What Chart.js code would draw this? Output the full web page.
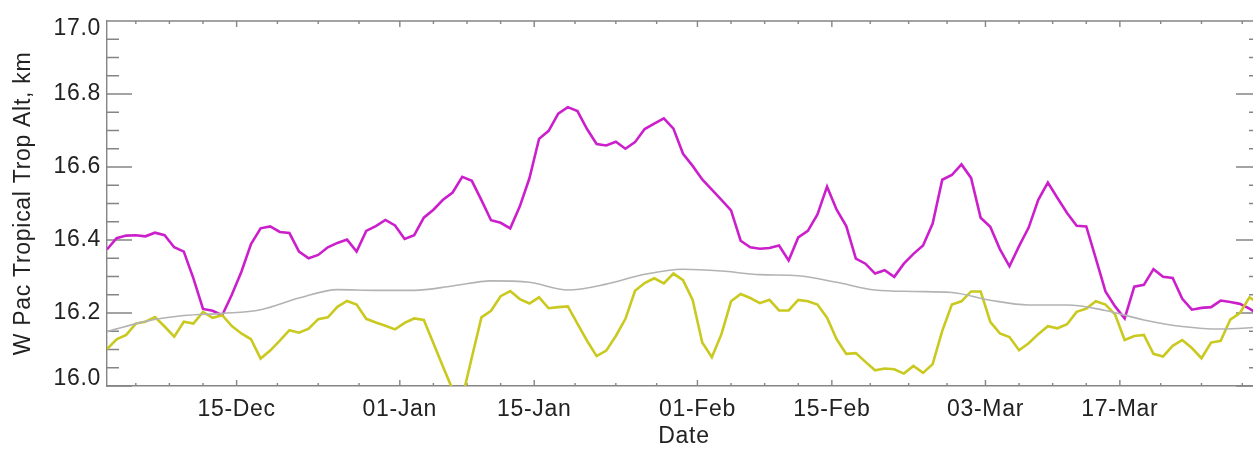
<!DOCTYPE html>
<html>
<head>
<meta charset="utf-8">
<title>W Pac Tropical Tropopause Altitude</title>
<script src="https://cdn.jsdelivr.net/npm/chart.js@4.4.1/dist/chart.umd.min.js"></script>
<style>
  html, body { margin: 0; padding: 0; background: #ffffff; overflow: hidden; }
  #wrap { width: 1280px; height: 449px; }
</style>
</head>
<body>
<div id="wrap"><canvas id="chart" width="1280" height="449"></canvas></div>
<script>
// Days are counted from 1 December (day 0); daily values sit at mid-day.
const seriesStartDay = 0.5;

// Daily tropopause altitude, km (magenta series)
const tropAltMagenta = [
  16.374, 16.405, 16.412, 16.413, 16.410, 16.420, 16.413, 16.380, 16.368, 16.295,
  16.211, 16.206, 16.194, 16.250, 16.313, 16.389, 16.432, 16.437, 16.422, 16.419,
  16.368, 16.350, 16.359, 16.380, 16.392, 16.401, 16.368, 16.425, 16.438, 16.455,
  16.440, 16.403, 16.413, 16.461, 16.483, 16.510, 16.530, 16.573, 16.562, 16.509,
  16.454, 16.447, 16.432, 16.492, 16.569, 16.677, 16.699, 16.746, 16.764, 16.753,
  16.704, 16.663, 16.659, 16.669, 16.650, 16.668, 16.704, 16.719, 16.733, 16.705,
  16.636, 16.603, 16.566, 16.538, 16.510, 16.481, 16.398, 16.380, 16.376, 16.378,
  16.385, 16.344, 16.407, 16.425, 16.470, 16.546, 16.483, 16.438, 16.349, 16.335,
  16.308, 16.317, 16.299, 16.335, 16.362, 16.385, 16.445, 16.565, 16.578, 16.607,
  16.570, 16.461, 16.436, 16.375, 16.328, 16.383, 16.434, 16.510, 16.557, 16.515,
  16.474, 16.439, 16.437, 16.349, 16.259, 16.218, 16.185, 16.272, 16.277, 16.320,
  16.299, 16.296, 16.239, 16.209, 16.214, 16.216, 16.234, 16.230, 16.225, 16.212,
  16.195
];

// Daily tropopause altitude, km (yellow series)
const tropAltYellow = [
  16.101, 16.128, 16.140, 16.171, 16.176, 16.189, 16.163, 16.135, 16.176, 16.171,
  16.203, 16.187, 16.194, 16.164, 16.144, 16.128, 16.075, 16.097, 16.124, 16.153,
  16.146, 16.157, 16.183, 16.188, 16.217, 16.233, 16.223, 16.184, 16.174, 16.165,
  16.155, 16.173, 16.185, 16.181, 16.117, 16.053, 15.990, 15.967, 16.078, 16.188,
  16.206, 16.246, 16.260, 16.238, 16.226, 16.243, 16.213, 16.216, 16.218, 16.171,
  16.124, 16.082, 16.097, 16.137, 16.184, 16.261, 16.282, 16.295, 16.281, 16.308,
  16.290, 16.236, 16.119, 16.079, 16.142, 16.232, 16.252, 16.241, 16.227, 16.236,
  16.207, 16.207, 16.236, 16.232, 16.223, 16.187, 16.128, 16.088, 16.090, 16.066,
  16.043, 16.048, 16.046, 16.034, 16.055, 16.036, 16.060, 16.151, 16.223, 16.232,
  16.259, 16.259, 16.176, 16.144, 16.134, 16.098, 16.117, 16.142, 16.164, 16.158,
  16.169, 16.203, 16.212, 16.232, 16.223, 16.196, 16.126, 16.137, 16.140, 16.088,
  16.081, 16.110, 16.126, 16.104, 16.076, 16.119, 16.124, 16.182, 16.200, 16.243,
  16.225
];

// Smooth reference curve (grey), sampled every fourth day
const climDays = [0, 4, 8, 12, 16, 20, 24, 28, 32, 36, 40, 44, 48, 52, 56, 60,
                  64, 68, 72, 76, 80, 84, 88, 92, 96, 100, 104, 108, 112, 116, 120];
const climValues = [
  16.149, 16.177, 16.193, 16.199, 16.209, 16.241, 16.264, 16.262, 16.262, 16.274,
  16.288, 16.284, 16.263, 16.279, 16.306, 16.320, 16.315, 16.305, 16.302, 16.284,
  16.263, 16.259, 16.256, 16.235, 16.222, 16.222, 16.207, 16.181, 16.163, 16.156,
  16.161
];

// Date axis: labelled days (day 0 = 01-Dec) and the span shown
const tickDays   = [14, 31, 45, 62, 76, 92, 106];
const tickLabels = ['15-Dec', '01-Jan', '15-Jan', '01-Feb', '15-Feb', '03-Mar', '17-Mar'];
const tickBounds = [0, 123];          // labelled dates just outside the span, used for minor ticks
const xMin = 0.5, xMax = 120.7;

// Altitude axis
const yTicks = [16.0, 16.2, 16.4, 16.6, 16.8, 17.0];
const yMin = 16.0, yMax = 17.0, yMinorStep = 0.05;

const fontFamily = "'Liberation Sans', Arial, Helvetica, sans-serif";
const textColor = '#222222';
const axisColor = '#858585';

function toPoints(values, offset) {
  return values.map((v, i) => ({ x: i + offset, y: v }));
}

// Four minor intervals between neighbouring labelled dates
function minorDays() {
  const edges = [tickBounds[0], ...tickDays, tickBounds[1]];
  const out = [];
  for (let i = 0; i < edges.length - 1; i++) {
    const step = (edges[i + 1] - edges[i]) / 4;
    for (let j = 1; j < 4; j++) {
      const d = edges[i] + j * step;
      if (d > xMin && d < xMax) out.push(d);
    }
  }
  return out;
}

// Box frame with inward-pointing major and minor ticks on all four sides
const axisFrame = {
  id: 'axisFrame',
  beforeDraw(chart) {
    chart.ctx.letterSpacing = '0.7px';
  },
  beforeDatasetsDraw(chart) {
    const { ctx, chartArea: a, scales: { x, y } } = chart;
    ctx.save();
    ctx.strokeStyle = axisColor;
    ctx.lineWidth = 1.4;
    ctx.beginPath();
    ctx.moveTo(a.left, a.top);
    ctx.lineTo(a.right, a.top);
    ctx.lineTo(a.right, a.bottom);

    const xTick = (d, len) => {
      const px = x.getPixelForValue(d);
      ctx.moveTo(px, a.bottom); ctx.lineTo(px, a.bottom - len);
      ctx.moveTo(px, a.top);    ctx.lineTo(px, a.top + len);
    };
    tickDays.forEach(d => xTick(d, 6));
    minorDays().forEach(d => xTick(d, 3));

    const n = Math.round((yMax - yMin) / yMinorStep);
    for (let i = 0; i <= n; i++) {
      const py = y.getPixelForValue(yMin + i * yMinorStep);
      const len = (i % 4 === 0) ? 25 : 12;
      ctx.moveTo(a.left, py);  ctx.lineTo(a.left + len, py);
      ctx.moveTo(a.right, py); ctx.lineTo(a.right - len, py);
    }
    ctx.stroke();
    ctx.restore();
  }
};

new Chart(document.getElementById('chart'), {
  type: 'line',
  data: {
    datasets: [
      {
        label: 'reference',
        data: climDays.map((d, i) => ({ x: d + seriesStartDay, y: climValues[i] })),
        borderColor: '#b3b3b3',
        borderWidth: 1.6,
        pointRadius: 0,
        cubicInterpolationMode: 'monotone',
        clip: 0
      },
      {
        label: 'yellow',
        data: toPoints(tropAltYellow, seriesStartDay),
        borderColor: '#c9c920',
        borderWidth: 2.6,
        pointRadius: 0,
        tension: 0,
        clip: 0
      },
      {
        label: 'magenta',
        data: toPoints(tropAltMagenta, seriesStartDay),
        borderColor: '#cc1fcc',
        borderWidth: 2.6,
        pointRadius: 0,
        tension: 0,
        clip: 0
      }
    ]
  },
  options: {
    responsive: false,
    animation: false,
    devicePixelRatio: 1,
    layout: { padding: { top: 15, right: 19, left: 0, bottom: 0 } },
    plugins: { legend: { display: false }, tooltip: { enabled: false } },
    scales: {
      x: {
        type: 'linear',
        min: xMin,
        max: xMax,
        afterBuildTicks: s => { s.ticks = tickDays.map(v => ({ value: v })); },
        afterFit: s => { s.height = 63; },
        ticks: {
          autoSkip: false,
          maxRotation: 0,
          padding: 10,
          color: textColor,
          font: { family: fontFamily, size: 23, lineHeight: 1.2 },
          callback: (v, i) => tickLabels[i]
        },
        grid: { display: false, drawTicks: false },
        border: { display: true, color: axisColor, width: 1.4 },
        title: {
          display: true,
          text: 'Date',
          color: textColor,
          font: { family: fontFamily, size: 23, lineHeight: 1 },
          padding: { top: 0, bottom: 0.5 }
        }
      },
      y: {
        type: 'linear',
        min: yMin,
        max: yMax,
        afterBuildTicks: s => { s.ticks = yTicks.map(v => ({ value: v })); },
        afterFit: s => { s.width = 107; },
        ticks: {
          padding: 6,
          color: textColor,
          font: { family: fontFamily, size: 23, lineHeight: 0.65 },
          callback: v => {
            const t = v.toFixed(1);
            if (v >= yMax) return ['', t];
            if (v <= yMin) return [t, ''];
            return t;
          }
        },
        grid: { display: false, drawTicks: false },
        border: { display: true, color: axisColor, width: 1.4 },
        title: {
          display: true,
          text: 'W Pac Tropical Trop Alt, km',
          color: textColor,
          font: { family: fontFamily, size: 23, lineHeight: 1 },
          padding: { top: 12.5, bottom: 0 }
        }
      }
    }
  },
  plugins: [axisFrame]
});
</script>
</body>
</html>
